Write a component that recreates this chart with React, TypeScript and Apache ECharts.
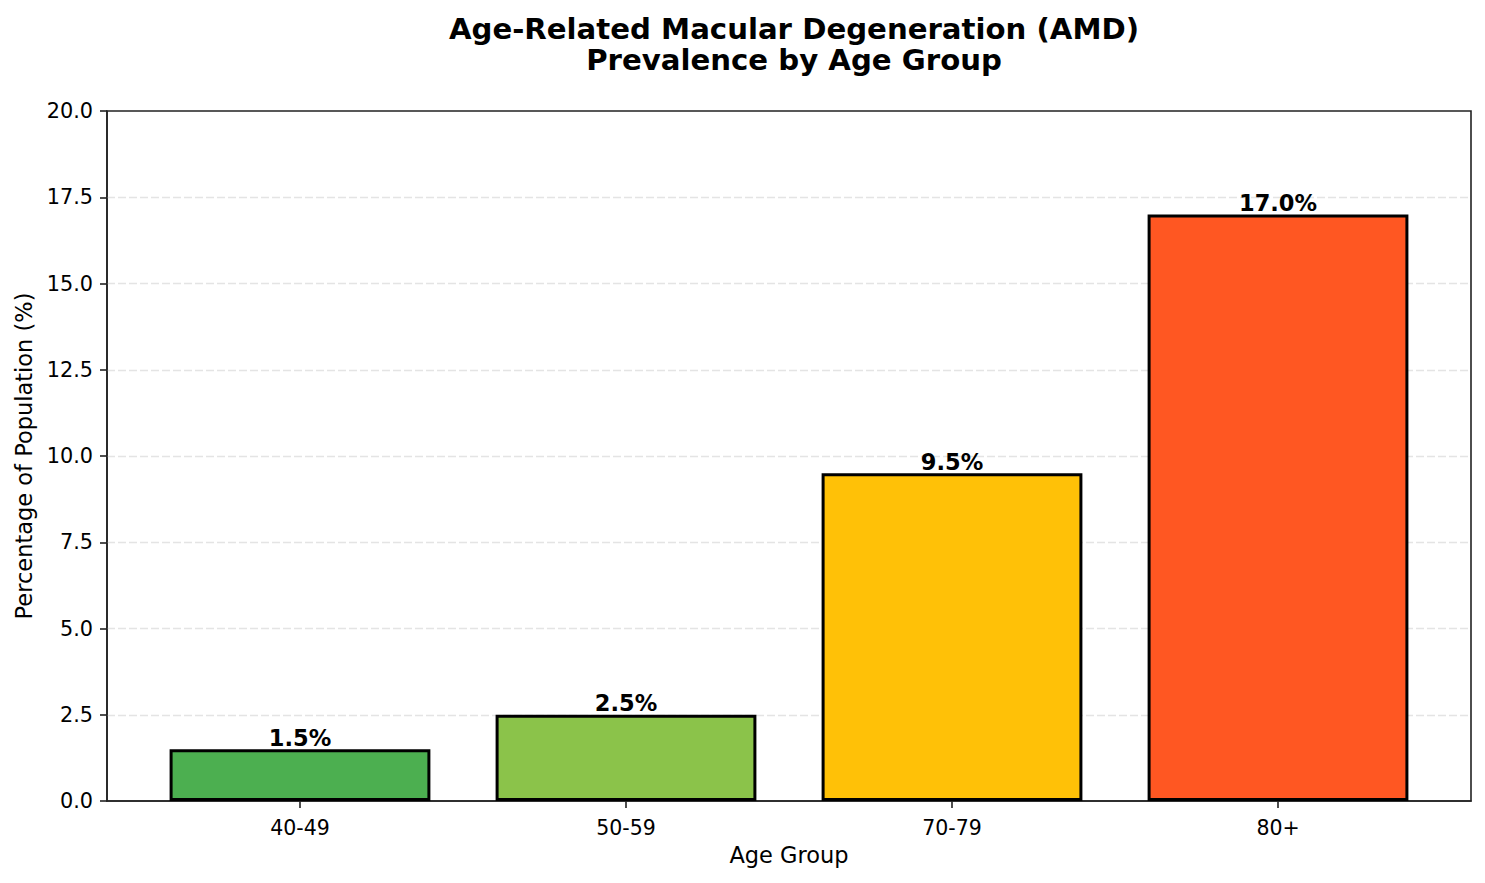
import React, { useEffect, useRef } from "react";
import * as echarts from "echarts";

const categories = ["40-49", "50-59", "70-79", "80+"];
const prevalence = [1.5, 2.5, 9.5, 17.0];
const barColors = ["#4CAF50", "#8BC34A", "#FFC107", "#FF5722"];
const yTicks = [0, 2.5, 5, 7.5, 10, 12.5, 15, 17.5, 20];

const FONT = "DejaVu Sans";

export default function App() {
  const ref = useRef<HTMLDivElement>(null);
  useEffect(() => {
    if (!ref.current) return;
    const chart = echarts.init(ref.current, undefined, { renderer: "svg" });
    const xIdx = categories.map((_, i) => i);
    chart.setOption({
      animation: false,
      backgroundColor: "#ffffff",
      title: {
        text: "Age-Related Macular Degeneration (AMD)\nPrevalence by Age Group",
        left: 789,
        top: 8,
        textAlign: "center",
        textStyle: {
          fontFamily: FONT,
          fontSize: 29.2,
          fontWeight: "bold",
          color: "#000",
          lineHeight: 31,
        },
      },
      grid: {
        left: 107,
        right: 14,
        top: 111,
        bottom: 82,
        show: true,
        borderColor: "#222",
        borderWidth: 1.6,
        backgroundColor: "transparent",
      },
      xAxis: {
        type: "value",
        min: -0.592,
        max: xIdx.length - 1 + 0.592,
        name: "Age Group",
        nameLocation: "middle",
        nameGap: 42,
        nameTextStyle: { fontFamily: FONT, fontSize: 22.5, color: "#000" },
        axisLine: { show: true, onZero: false, lineStyle: { color: "#222", width: 1.6 } },
        axisTick: {
          show: true,
          customValues: xIdx,
          length: 7,
          lineStyle: { color: "#222", width: 1.6 },
        },
        axisLabel: {
          customValues: xIdx,
          margin: 16,
          fontFamily: FONT,
          fontSize: 20.5,
          color: "#000",
          formatter: (v: number) => categories[Math.round(v)] ?? "",
        },
        splitLine: { show: false },
      },
      yAxis: {
        type: "value",
        min: yTicks[0],
        max: yTicks[yTicks.length - 1],
        interval: yTicks[1] - yTicks[0],
        name: "Percentage of Population (%)",
        nameLocation: "middle",
        nameGap: 71,
        nameTextStyle: { fontFamily: FONT, fontSize: 22.5, color: "#000" },
        axisLine: { show: true, onZero: false, lineStyle: { color: "#222", width: 1.6 } },
        axisTick: { show: true, length: 7, lineStyle: { color: "#222", width: 1.6 } },
        axisLabel: {
          margin: 14,
          fontFamily: FONT,
          fontSize: 20.8,
          color: "#000",
          formatter: (v: number) => v.toFixed(1),
        },
        splitLine: {
          show: true,
          showMinLine: false,
          showMaxLine: false,
          lineStyle: { color: "#e4e4e4", width: 1.4, type: [8, 3] },
        },
      },
      series: [
        {
          type: "bar",
          barWidth: "80%",
          data: prevalence.map((v, i) => ({
            value: [i, v],
            itemStyle: {
              color: barColors[i],
              borderColor: "#000",
              borderWidth: 3,
            },
          })),
          label: {
            show: true,
            position: "top",
            distance: 0,
            fontFamily: FONT,
            fontSize: 22.5,
            fontWeight: "bold",
            color: "#000",
            formatter: (p: any) => `${p.value[1].toFixed(1)}%`,
          },
        },
      ],
    });
    return () => chart.dispose();
  }, []);
  return (
    <div
      ref={ref}
      style={{ position: "absolute", left: 0, top: 0, width: 1485, height: 883 }}
    />
  );
}
